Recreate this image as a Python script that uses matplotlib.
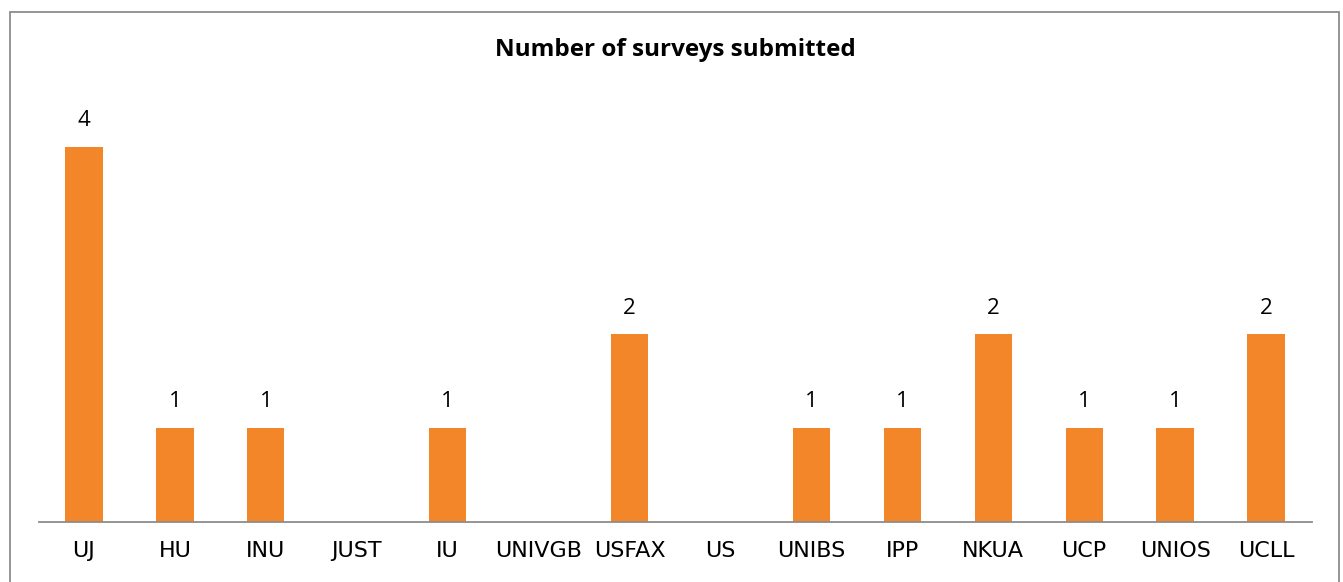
import matplotlib
matplotlib.use("Agg")
import matplotlib.pyplot as plt
import matplotlib.patches as mpatches
import numpy as np

# ── Data ─────────────────────────────────────────────────────
institutions = ["UJ", "HU", "INU", "JUST", "IU", "UNIVGB", "USFAX",
                "US", "UNIBS", "IPP", "NKUA", "UCP", "UNIOS", "UCLL"]
surveys = [4, 1, 1, 0, 1, 0, 2, 0, 1, 1, 2, 1, 1, 2]

W, H = 1343, 582
fig = plt.figure(figsize=(W / 100, H / 100), dpi=100)
fig.patch.set_facecolor("white")

# outer chart border (bottom edge falls outside the image)
fig.add_artist(mpatches.Rectangle((9.5 / W, -0.2), 1329.5 / W, 1.2 - 11.5 / H,
                                  transform=fig.transFigure, fill=False,
                                  edgecolor="#8c8c8c", linewidth=1.3))

ax = fig.add_axes([38.5 / W, 60 / H, 1273 / W, 422 / H])
x = np.arange(len(institutions))
bars = ax.bar(x, surveys, width=0.41, color="#F4862A", zorder=2)

ax.set_xlim(-0.5, len(institutions) - 0.5)
ax.set_ylim(0, 4.5)
ax.set_yticks([])
for s in ["top", "right", "left"]:
    ax.spines[s].set_visible(False)
ax.spines["bottom"].set_color("#8c8c8c")
ax.spines["bottom"].set_linewidth(1.3)

ax.set_xticks(x)
ax.set_xticklabels(institutions, fontsize=16, family="DejaVu Sans")
ax.tick_params(axis="x", length=0, pad=14)

for xi, v in zip(x, surveys):
    if v > 0:
        ax.text(xi, v + 0.17, str(v), ha="center", va="bottom",
                fontsize=16, family=["Open Sans", "DejaVu Sans"])

fig.text(675 / W, 1 - 50 / H, "Number of surveys submitted", ha="center", va="center",
         fontsize=17.5, fontweight="bold", family=["Open Sans", "DejaVu Sans"])

plt.savefig("out.png", dpi=100)
